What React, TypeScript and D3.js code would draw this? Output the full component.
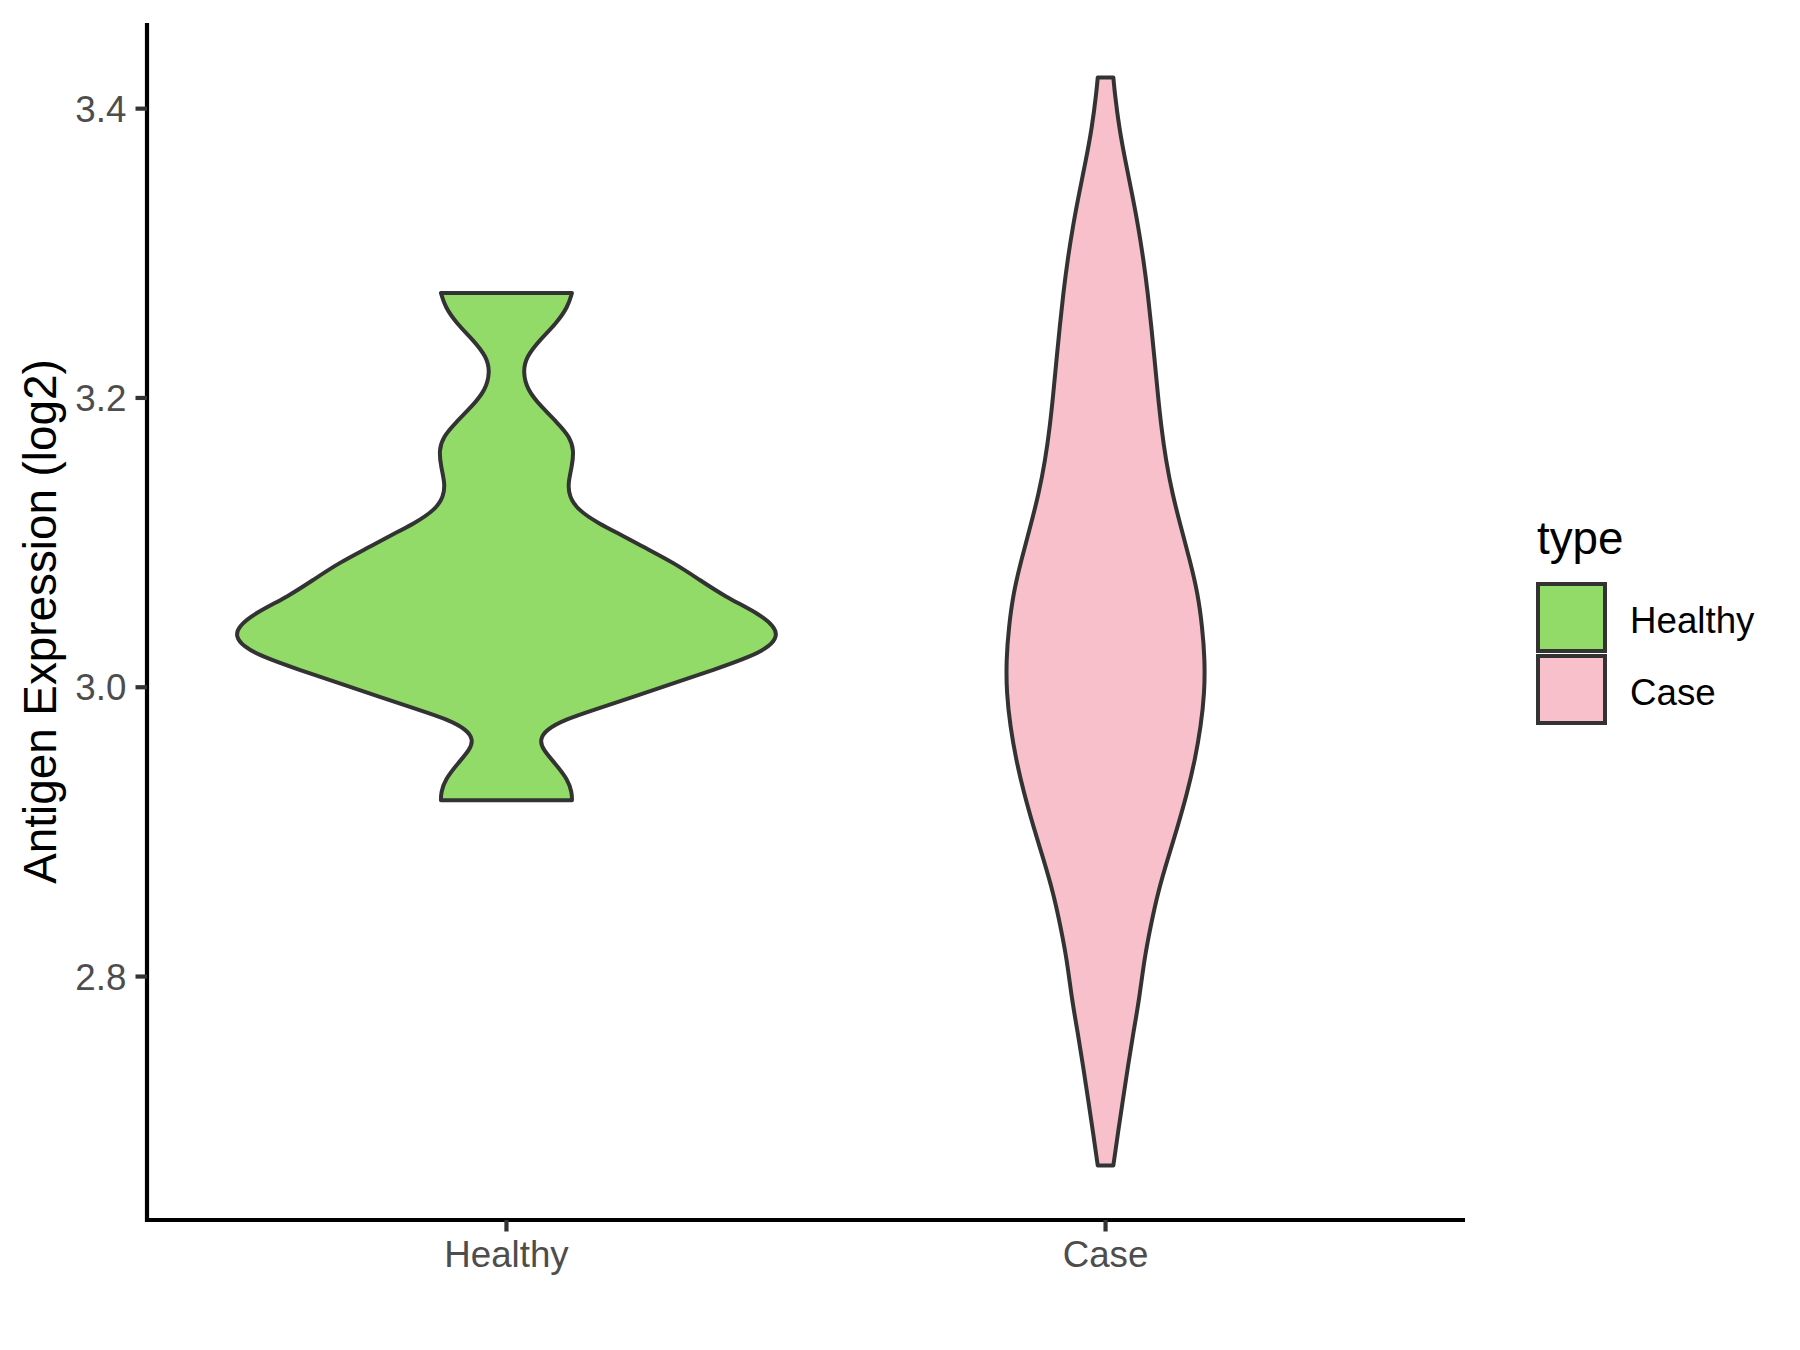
import React from "react";
import * as d3 from "d3";

const categories = ["Healthy", "Case"];
const fills = ["#93DB69", "#F7C0CB"];
const yTicks = [2.8, 3.0, 3.2, 3.4];
const yTitle = "Antigen Expression (log2)";
const legendTitle = "type";

// Healthy violin: y value and relative density (max = 1)
const healthyValues = [
  3.2726, 3.263, 3.2515, 3.24, 3.2284, 3.2181, 3.2055, 3.1939, 3.1825, 3.1732,
  3.164, 3.1525, 3.141, 3.1318, 3.1226, 3.1134, 3.1042, 3.0973, 3.0858, 3.0743,
  3.0628, 3.0513, 3.042, 3.0351, 3.0282, 3.0213, 3.0122, 3.003, 2.9937, 2.9845,
  2.9776, 2.9707, 2.9638, 2.9569, 2.9477, 2.9362, 2.927, 2.9219,
];
const healthyDensity = [
  0.2419, 0.2271, 0.1839, 0.1226, 0.0731, 0.0609, 0.0768, 0.1285, 0.1902, 0.2334,
  0.2493, 0.2419, 0.2271, 0.2319, 0.264, 0.3379, 0.4357, 0.5022, 0.6204, 0.7127,
  0.8058, 0.9287, 0.9904, 1.0, 0.9719, 0.904, 0.7688, 0.6211, 0.4734, 0.3257,
  0.2149, 0.147, 0.1226, 0.1348, 0.178, 0.2271, 0.2419, 0.2419,
];

// Case violin
const caseValues = [
  3.4216, 3.4103, 3.3872, 3.3642, 3.3412, 3.3182, 3.2952, 3.2722, 3.2492, 3.2262,
  3.2032, 3.1801, 3.1571, 3.1341, 3.1111, 3.0881, 3.0651, 3.042, 3.0191, 2.9961,
  2.973, 2.95, 2.927, 2.904, 2.881, 2.858, 2.8349, 2.8119, 2.7843, 2.7613,
  2.7383, 2.7153, 2.6923, 2.6693,
];
const caseDensity = [
  0.0288, 0.0343, 0.0499, 0.0727, 0.0979, 0.1211, 0.1403, 0.1562, 0.1691, 0.1813,
  0.1928, 0.2057, 0.2227, 0.2463, 0.2777, 0.3109, 0.3405, 0.3571, 0.3667, 0.3656,
  0.3519, 0.3305, 0.3017, 0.267, 0.229, 0.1931, 0.1665, 0.1429, 0.1244, 0.1027,
  0.0831, 0.0646, 0.0462, 0.0288,
];

const W = 1800;
const H = 1350;
const panel = { left: 147, right: 1465, top: 23, bottom: 1220 };
const FONT = "'Liberation Sans', Arial, Helvetica, sans-serif";

export default function App() {
  const series = [
    { name: categories[0], fill: fills[0], pts: healthyValues.map((v, i) => ({ v, d: healthyDensity[i] })) },
    { name: categories[1], fill: fills[1], pts: caseValues.map((v, i) => ({ v, d: caseDensity[i] })) },
  ];
  const allV = [...healthyValues, ...caseValues];
  const vmin = d3.min(allV) as number;
  const vmax = d3.max(allV) as number;
  const pad = (vmax - vmin) * 0.05;
  const y = d3.scaleLinear().domain([vmin - pad, vmax + pad]).range([panel.bottom, panel.top]);
  const x = d3.scalePoint<string>().domain(categories).range([panel.left, panel.right]).padding(0.6);
  const step = x.step();
  const maxD = d3.max([...healthyDensity, ...caseDensity]) as number;
  const wScale = d3.scaleLinear().domain([0, maxD]).range([0, 0.452 * step]);

  const tickLen = 11.5;
  const tickFont = 36.7;
  const titleFont = 45.8;

  return (
    <svg width={W} height={H} style={{ position: "absolute", left: 0, top: 0, display: "block", background: "#fff" }}>
      <rect x={0} y={0} width={W} height={H} fill="#ffffff" />
      {series.map((s) => {
        const cx = x(s.name) as number;
        const area = d3
          .area<{ v: number; d: number }>()
          .curve(d3.curveBasis)
          .y((p) => y(p.v))
          .x0((p) => cx - wScale(p.d))
          .x1((p) => cx + wScale(p.d));
        return (
          <path
            key={s.name}
            d={area(s.pts) || ""}
            fill={s.fill}
            stroke="#333333"
            strokeWidth={4}
            strokeLinejoin="round"
          />
        );
      })}
      {/* axes */}
      <line x1={panel.left} x2={panel.left} y1={panel.top} y2={panel.bottom + 2} stroke="#000" strokeWidth={4.2} />
      <line x1={panel.left - 2} x2={panel.right} y1={panel.bottom} y2={panel.bottom} stroke="#000" strokeWidth={4.2} />
      {yTicks.map((t) => (
        <g key={t}>
          <line x1={panel.left - tickLen} x2={panel.left} y1={y(t)} y2={y(t)} stroke="#333333" strokeWidth={4.2} />
          <text
            x={panel.left - tickLen - 9.2}
            y={y(t) + 13}
            textAnchor="end"
            fontFamily={FONT}
            fontSize={tickFont}
            fill="#4D4D4D"
          >
            {t.toFixed(1)}
          </text>
        </g>
      ))}
      {categories.map((c) => (
        <g key={c}>
          <line x1={x(c)} x2={x(c)} y1={panel.bottom} y2={panel.bottom + tickLen} stroke="#333333" strokeWidth={4.2} />
          <text x={x(c)} y={1267} textAnchor="middle" fontFamily={FONT} fontSize={tickFont} fill="#4D4D4D">
            {c}
          </text>
        </g>
      ))}
      <text
        transform={`translate(56, ${(panel.top + panel.bottom) / 2}) rotate(-90)`}
        textAnchor="middle"
        fontFamily={FONT}
        fontSize={titleFont}
        fill="#000"
      >
        {yTitle}
      </text>
      {/* legend */}
      <text x={1537} y={554} fontFamily={FONT} fontSize={titleFont} fill="#000">
        {legendTitle}
      </text>
      {categories.map((c, i) => (
        <g key={c}>
          <rect x={1538} y={584 + i * 72} width={67} height={67} fill={fills[i]} stroke="#333333" strokeWidth={4} />
          <text x={1630} y={633 + i * 72} fontFamily={FONT} fontSize={tickFont} fill="#000">
            {c}
          </text>
        </g>
      ))}
    </svg>
  );
}
